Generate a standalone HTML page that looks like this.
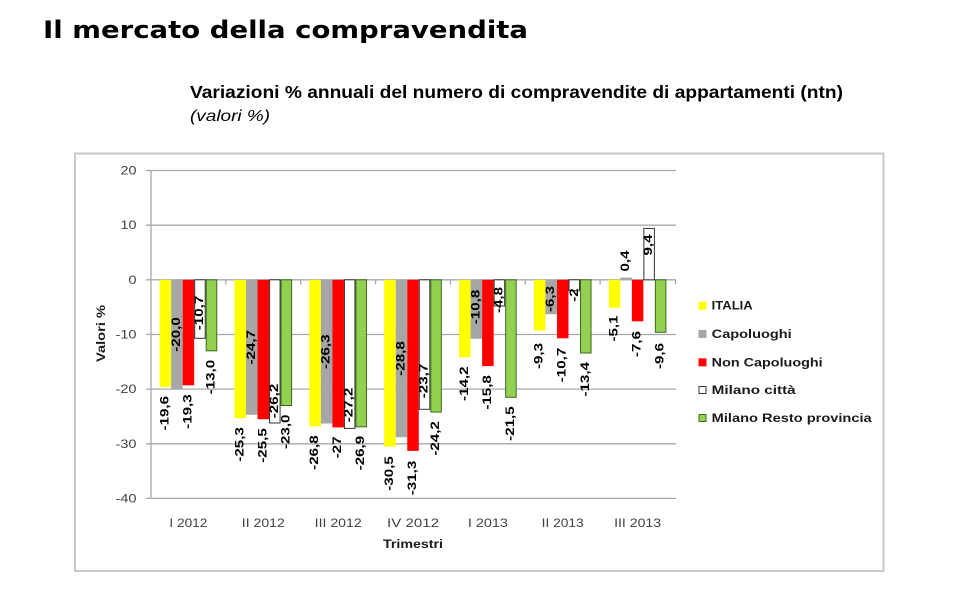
<!DOCTYPE html>
<html>
<head>
<meta charset="utf-8">
<style>
html,body{margin:0;padding:0;background:#fff;}
svg{display:block;}
.lb{font-family:"Liberation Sans",sans-serif;font-weight:bold;font-size:11.5px;fill:#000;}
.yt{font-family:"Liberation Sans",sans-serif;font-size:12px;fill:#404040;}
.xt{font-family:"Liberation Sans",sans-serif;font-size:12px;fill:#404040;}
.lg{font-family:"Liberation Sans",sans-serif;font-weight:bold;font-size:12px;fill:#1a1a1a;}
</style>
</head>
<body>
<svg width="960" height="602" viewBox="0 0 960 602" xmlns="http://www.w3.org/2000/svg">
<rect x="0" y="0" width="960" height="602" fill="#fff"/>

<!-- Title -->
<text x="43" y="38" font-family="'DejaVu Sans',sans-serif" font-weight="bold" font-size="24" fill="#000" textLength="485" lengthAdjust="spacingAndGlyphs">Il mercato della compravendita</text>
<text x="190" y="98" font-family="'Liberation Sans',sans-serif" font-weight="bold" font-size="17.5" fill="#000" textLength="653" lengthAdjust="spacingAndGlyphs">Variazioni % annuali del numero di compravendite di appartamenti (ntn)</text>
<text x="190" y="121" font-family="'Liberation Sans',sans-serif" font-style="italic" font-size="16" fill="#000" textLength="80" lengthAdjust="spacingAndGlyphs">(valori %)</text>

<!-- Chart box -->
<rect x="75" y="153.5" width="808.5" height="417.5" fill="#fff" stroke="#c8c8c8" stroke-width="2"/>

<!-- gridlines -->
<g stroke="#a8a8a8" stroke-width="1.3">
<line x1="146" y1="170.5" x2="676" y2="170.5"/>
<line x1="146" y1="225.2" x2="676" y2="225.2"/>
<line x1="146" y1="279.8" x2="676" y2="279.8"/>
<line x1="146" y1="334.5" x2="676" y2="334.5"/>
<line x1="146" y1="389.1" x2="676" y2="389.1"/>
<line x1="146" y1="443.8" x2="676" y2="443.8"/>
<line x1="146" y1="498.4" x2="676" y2="498.4"/>
<line x1="151" y1="170.5" x2="151" y2="498.4"/>
<!-- category ticks -->
<line x1="225.86" y1="279.8" x2="225.86" y2="284.5"/>
<line x1="300.72" y1="279.8" x2="300.72" y2="284.5"/>
<line x1="375.58" y1="279.8" x2="375.58" y2="284.5"/>
<line x1="450.44" y1="279.8" x2="450.44" y2="284.5"/>
<line x1="525.30" y1="279.8" x2="525.30" y2="284.5"/>
<line x1="600.16" y1="279.8" x2="600.16" y2="284.5"/>
<line x1="675.5" y1="279.8" x2="675.5" y2="284.5"/>
</g>

<!-- Y tick labels -->
<g class="yt" text-anchor="end" dominant-baseline="central">
<text x="136.5" y="170.5" textLength="16" lengthAdjust="spacingAndGlyphs">20</text>
<text x="136.5" y="225.2" textLength="16" lengthAdjust="spacingAndGlyphs">10</text>
<text x="136.5" y="279.8" textLength="8" lengthAdjust="spacingAndGlyphs">0</text>
<text x="136.5" y="334.5" textLength="21" lengthAdjust="spacingAndGlyphs">-10</text>
<text x="136.5" y="389.1" textLength="21" lengthAdjust="spacingAndGlyphs">-20</text>
<text x="136.5" y="443.8" textLength="21" lengthAdjust="spacingAndGlyphs">-30</text>
<text x="136.5" y="498.4" textLength="21" lengthAdjust="spacingAndGlyphs">-40</text>
</g>

<!-- Axis titles -->
<text transform="translate(102,333.5) rotate(-90)" text-anchor="middle" dominant-baseline="central" font-family="'Liberation Sans',sans-serif" font-weight="bold" font-size="11.5" fill="#1a1a1a" textLength="57" lengthAdjust="spacingAndGlyphs">Valori %</text>
<text x="413" y="548" text-anchor="middle" font-family="'Liberation Sans',sans-serif" font-weight="bold" font-size="11.5" fill="#1a1a1a" textLength="60" lengthAdjust="spacingAndGlyphs">Trimestri</text>

<!-- X labels -->
<g class="xt" text-anchor="middle">
<text x="188.4" y="527" textLength="38" lengthAdjust="spacingAndGlyphs">I 2012</text>
<text x="263.3" y="527" textLength="43" lengthAdjust="spacingAndGlyphs">II 2012</text>
<text x="338.2" y="527" textLength="47" lengthAdjust="spacingAndGlyphs">III 2012</text>
<text x="413.0" y="527" textLength="52" lengthAdjust="spacingAndGlyphs">IV 2012</text>
<text x="487.9" y="527" textLength="40" lengthAdjust="spacingAndGlyphs">I 2013</text>
<text x="562.7" y="527" textLength="42" lengthAdjust="spacingAndGlyphs">II 2013</text>
<text x="637.6" y="527" textLength="47" lengthAdjust="spacingAndGlyphs">III 2013</text>
</g>

<!-- Bars -->
<!-- I 2012 -->
<rect x="159.64" y="279.8" width="11.52" height="107.1" fill="#ffff00"/>
<rect x="171.16" y="279.8" width="11.52" height="109.3" fill="#a6a6a6"/>
<rect x="182.68" y="279.8" width="11.52" height="105.5" fill="#ff0000"/>
<rect x="194.70" y="279.8" width="10.52" height="58.5" fill="#fff" stroke="#333" stroke-width="1"/>
<rect x="206.22" y="279.8" width="10.52" height="71.0" fill="#92d050" stroke="#3d6b1e" stroke-width="1"/>
<!-- II 2012 -->
<rect x="234.50" y="279.8" width="11.52" height="138.3" fill="#ffff00"/>
<rect x="246.02" y="279.8" width="11.52" height="135.0" fill="#a6a6a6"/>
<rect x="257.54" y="279.8" width="11.52" height="139.4" fill="#ff0000"/>
<rect x="269.56" y="279.8" width="10.52" height="143.2" fill="#fff" stroke="#333" stroke-width="1"/>
<rect x="281.08" y="279.8" width="10.52" height="125.7" fill="#92d050" stroke="#3d6b1e" stroke-width="1"/>
<!-- III 2012 -->
<rect x="309.36" y="279.8" width="11.52" height="146.5" fill="#ffff00"/>
<rect x="320.88" y="279.8" width="11.52" height="143.7" fill="#a6a6a6"/>
<rect x="332.40" y="279.8" width="11.52" height="147.6" fill="#ff0000"/>
<rect x="344.42" y="279.8" width="10.52" height="148.6" fill="#fff" stroke="#333" stroke-width="1"/>
<rect x="355.94" y="279.8" width="10.52" height="147.0" fill="#92d050" stroke="#3d6b1e" stroke-width="1"/>
<!-- IV 2012 -->
<rect x="384.22" y="279.8" width="11.52" height="166.7" fill="#ffff00"/>
<rect x="395.74" y="279.8" width="11.52" height="157.4" fill="#a6a6a6"/>
<rect x="407.26" y="279.8" width="11.52" height="171.1" fill="#ff0000"/>
<rect x="419.28" y="279.8" width="10.52" height="129.5" fill="#fff" stroke="#333" stroke-width="1"/>
<rect x="430.80" y="279.8" width="10.52" height="132.3" fill="#92d050" stroke="#3d6b1e" stroke-width="1"/>
<!-- I 2013 -->
<rect x="459.08" y="279.8" width="11.52" height="77.6" fill="#ffff00"/>
<rect x="470.60" y="279.8" width="11.52" height="59.0" fill="#a6a6a6"/>
<rect x="482.12" y="279.8" width="11.52" height="86.3" fill="#ff0000"/>
<rect x="494.14" y="279.8" width="10.52" height="26.2" fill="#fff" stroke="#333" stroke-width="1"/>
<rect x="505.66" y="279.8" width="10.52" height="117.5" fill="#92d050" stroke="#3d6b1e" stroke-width="1"/>
<!-- II 2013 -->
<rect x="533.94" y="279.8" width="11.52" height="50.8" fill="#ffff00"/>
<rect x="545.46" y="279.8" width="11.52" height="34.4" fill="#a6a6a6"/>
<rect x="556.98" y="279.8" width="11.52" height="58.5" fill="#ff0000"/>
<rect x="569.00" y="279.8" width="10.52" height="10.9" fill="#fff" stroke="#333" stroke-width="1"/>
<rect x="580.52" y="279.8" width="10.52" height="73.2" fill="#92d050" stroke="#3d6b1e" stroke-width="1"/>
<!-- III 2013 -->
<rect x="608.80" y="279.8" width="11.52" height="27.9" fill="#ffff00"/>
<rect x="620.32" y="277.6" width="11.52" height="2.2" fill="#a6a6a6"/>
<rect x="631.84" y="279.8" width="11.52" height="41.5" fill="#ff0000"/>
<rect x="643.86" y="228.4" width="10.52" height="51.4" fill="#fff" stroke="#333" stroke-width="1"/>
<rect x="655.38" y="279.8" width="10.52" height="52.5" fill="#92d050" stroke="#3d6b1e" stroke-width="1"/>

<!-- Data labels -->
<g class="lb" text-anchor="middle" dominant-baseline="central">
<!-- I 2012 -->
<text transform="translate(165.4,413.2) rotate(-90)" textLength="34.5" lengthAdjust="spacingAndGlyphs">-19,6</text>
<text transform="translate(176.9,334.5) rotate(-90)" textLength="34.5" lengthAdjust="spacingAndGlyphs">-20,0</text>
<text transform="translate(188.4,411.6) rotate(-90)" textLength="34.5" lengthAdjust="spacingAndGlyphs">-19,3</text>
<text transform="translate(200.0,313) rotate(-90)" textLength="34.5" lengthAdjust="spacingAndGlyphs">-10,7</text>
<text transform="translate(211.5,377.1) rotate(-90)" textLength="34.5" lengthAdjust="spacingAndGlyphs">-13,0</text>
<!-- II 2012 -->
<text transform="translate(240.3,444.4) rotate(-90)" textLength="34.5" lengthAdjust="spacingAndGlyphs">-25,3</text>
<text transform="translate(251.8,347.3) rotate(-90)" textLength="34.5" lengthAdjust="spacingAndGlyphs">-24,7</text>
<text transform="translate(263.3,445.5) rotate(-90)" textLength="34.5" lengthAdjust="spacingAndGlyphs">-25,5</text>
<text transform="translate(274.8,401) rotate(-90)" textLength="34.5" lengthAdjust="spacingAndGlyphs">-26,2</text>
<text transform="translate(286.3,431.8) rotate(-90)" textLength="34.5" lengthAdjust="spacingAndGlyphs">-23,0</text>
<!-- III 2012 -->
<text transform="translate(315.1,452.6) rotate(-90)" textLength="34.5" lengthAdjust="spacingAndGlyphs">-26,8</text>
<text transform="translate(326.6,351.7) rotate(-90)" textLength="34.5" lengthAdjust="spacingAndGlyphs">-26,3</text>
<text transform="translate(338.2,447.4) rotate(-90)" textLength="22" lengthAdjust="spacingAndGlyphs">-27</text>
<text transform="translate(349.7,405) rotate(-90)" textLength="34.5" lengthAdjust="spacingAndGlyphs">-27,2</text>
<text transform="translate(361.2,453.1) rotate(-90)" textLength="34.5" lengthAdjust="spacingAndGlyphs">-26,9</text>
<!-- IV 2012 -->
<text transform="translate(390.0,473.5) rotate(-90)" textLength="34.5" lengthAdjust="spacingAndGlyphs">-30,5</text>
<text transform="translate(401.5,358.5) rotate(-90)" textLength="34.5" lengthAdjust="spacingAndGlyphs">-28,8</text>
<text transform="translate(413.0,478) rotate(-90)" textLength="34.5" lengthAdjust="spacingAndGlyphs">-31,3</text>
<text transform="translate(424.5,381) rotate(-90)" textLength="34.5" lengthAdjust="spacingAndGlyphs">-23,7</text>
<text transform="translate(436.1,438.4) rotate(-90)" textLength="34.5" lengthAdjust="spacingAndGlyphs">-24,2</text>
<!-- I 2013 -->
<text transform="translate(464.8,383.7) rotate(-90)" textLength="34.5" lengthAdjust="spacingAndGlyphs">-14,2</text>
<text transform="translate(476.4,307) rotate(-90)" textLength="34.5" lengthAdjust="spacingAndGlyphs">-10,8</text>
<text transform="translate(487.9,392.4) rotate(-90)" textLength="34.5" lengthAdjust="spacingAndGlyphs">-15,8</text>
<text transform="translate(499.4,300) rotate(-90)" textLength="26" lengthAdjust="spacingAndGlyphs">-4,8</text>
<text transform="translate(510.9,423.6) rotate(-90)" textLength="34.5" lengthAdjust="spacingAndGlyphs">-21,5</text>
<!-- II 2013 -->
<text transform="translate(539.7,356) rotate(-90)" textLength="26" lengthAdjust="spacingAndGlyphs">-9,3</text>
<text transform="translate(551.2,299) rotate(-90)" textLength="26" lengthAdjust="spacingAndGlyphs">-6,3</text>
<text transform="translate(562.7,365) rotate(-90)" textLength="34.5" lengthAdjust="spacingAndGlyphs">-10,7</text>
<text transform="translate(574.8,295) rotate(-90)" textLength="13.5" lengthAdjust="spacingAndGlyphs">-2</text>
<text transform="translate(585.8,379.3) rotate(-90)" textLength="34.5" lengthAdjust="spacingAndGlyphs">-13,4</text>
<!-- III 2013 -->
<text transform="translate(614.6,328.5) rotate(-90)" textLength="26" lengthAdjust="spacingAndGlyphs">-5,1</text>
<text transform="translate(626.1,261) rotate(-90)" textLength="21" lengthAdjust="spacingAndGlyphs">0,4</text>
<text transform="translate(637.6,344) rotate(-90)" textLength="26" lengthAdjust="spacingAndGlyphs">-7,6</text>
<text transform="translate(649.1,245) rotate(-90)" textLength="21" lengthAdjust="spacingAndGlyphs">9,4</text>
<text transform="translate(660.6,356) rotate(-90)" textLength="26" lengthAdjust="spacingAndGlyphs">-9,6</text>
</g>

<!-- Legend -->
<rect x="698.5" y="301.7" width="8" height="8" fill="#ffff00"/>
<rect x="698.5" y="330" width="8" height="8" fill="#a6a6a6"/>
<rect x="698.5" y="358.3" width="8" height="8" fill="#ff0000"/>
<rect x="699" y="386.5" width="7" height="7" fill="#fff" stroke="#333" stroke-width="1"/>
<rect x="699" y="414.5" width="7" height="7" fill="#92d050" stroke="#3d6b1e" stroke-width="1"/>
<g class="lg" dominant-baseline="central">
<text x="711.7" y="305.7" textLength="41" lengthAdjust="spacingAndGlyphs">ITALIA</text>
<text x="711.7" y="334" textLength="80" lengthAdjust="spacingAndGlyphs">Capoluoghi</text>
<text x="711.7" y="362.3" textLength="111" lengthAdjust="spacingAndGlyphs">Non Capoluoghi</text>
<text x="711.7" y="390" textLength="84" lengthAdjust="spacingAndGlyphs">Milano città</text>
<text x="711.7" y="418" textLength="160" lengthAdjust="spacingAndGlyphs">Milano Resto provincia</text>
</g>
</svg>
</body>
</html>
